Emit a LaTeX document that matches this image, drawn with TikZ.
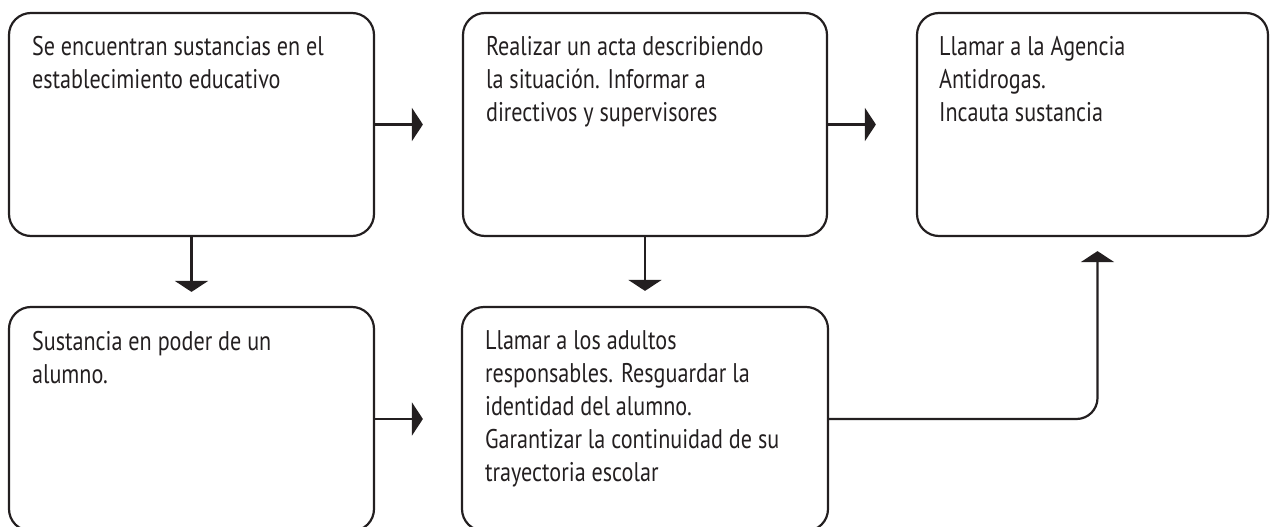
\documentclass[tikz,border=0pt]{standalone}
\usepackage{fontspec}
\setmainfont{PT Sans}[FakeStretch=0.82]
\usetikzlibrary{arrows.meta,calc}
\definecolor{ink}{HTML}{231F20}
\tikzset{
  box/.style={draw=ink, line width=2.2pt, rounded corners=22pt, inner sep=0pt, minimum height=223pt},
  txt/.style={anchor=base west, inner sep=0pt, text=ink},
  arr/.style={draw=ink, line width=2.2pt, -{Triangle[length=11pt,width=33pt]}},
}
\newcommand{\boxtext}[1]{\parbox[t]{330pt}{\raggedright\fontsize{27}{33}\selectfont #1}}
\begin{document}
\begin{tikzpicture}[x=1pt,y=-1pt]
\useasboundingbox (0,0) rectangle (1272,527);
\clip (0,0) rectangle (1272,527);
\node[box, minimum width=365pt] (b1) at (191.5,124.5) {};
\node[box, minimum width=364pt] (b2) at (645,124.5) {};
\node[box, minimum width=351pt] (b3) at (1092.5,124.5) {};
\node[box, minimum width=365pt, minimum height=224pt] (b4) at (191.5,419) {};
\node[box, minimum width=366pt, minimum height=224pt] (b5) at (645,419) {};
\node[txt] (t1) at ($(b1.north west)+(24,44)$) {\boxtext{Se encuentran sustancias en el\\establecimiento educativo}};
\node[txt] (t2) at ($(b2.north west)+(24,44)$) {\boxtext{Realizar un acta describiendo\\la situación. Informar a\\directivos y supervisores}};
\node[txt] (t3) at ($(b3.north west)+(23,44)$) {\boxtext{Llamar a la Agencia\\Antidrogas.\\Incauta sustancia}};
\node[txt] (t4) at ($(b4.north west)+(24,45)$) {\boxtext{Sustancia en poder de un\\alumno.}};
\node[txt] (t5) at ($(b5.north west)+(24,44)$) {\boxtext{Llamar a los adultos\\responsables. Resguardar la\\identidad del alumno.\\Garantizar la continuidad de su\\trayectoria escolar}};
\draw[arr, shorten >=39pt] (b1.east) -- (b2.west);
\draw[arr, shorten >=40pt] (b2.east) -- (b3.west);
\draw[arr, shorten >=14pt] (b1.south) -- (b4.north);
\draw[arr, shorten >=15pt] (b2.south) -- (b5.north);
\draw[arr, shorten >=38pt] (b4.east) -- (b5.west);
\coordinate (in3) at ($(b3.south)+(5,0)$);
\draw[arr, rounded corners=21pt, shorten >=14pt] (b5.east) -| (in3);
\end{tikzpicture}
\end{document}
